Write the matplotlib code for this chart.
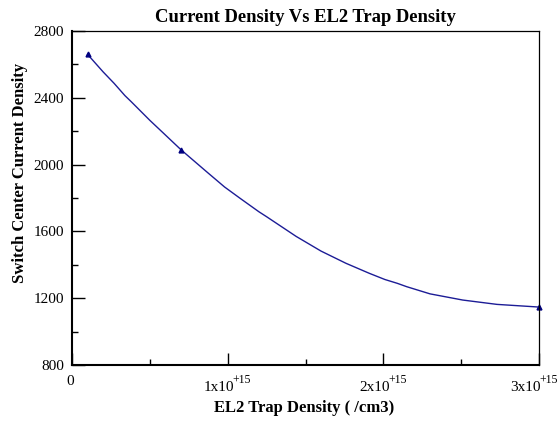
import numpy as np
import matplotlib
matplotlib.use("Agg")
import matplotlib.pyplot as plt
from matplotlib.ticker import MultipleLocator, FixedLocator

plt.rcParams["font.family"] = ["Liberation Serif", "DejaVu Serif"]

# measured points (EL2 trap density, /cm3)
trap_density = [0.1e15, 0.7e15, 3.0e15]
current_density = [2660, 2089, 1147]

# smooth fit curve
curve_x = [0.10e15, 0.20e15, 0.27e15, 0.34e15, 0.38e15, 0.50e15, 0.59e15,
           0.70e15, 0.87e15, 0.98e15, 1.08e15, 1.20e15, 1.25e15, 1.44e15,
           1.60e15, 1.76e15, 1.91e15, 2.01e15, 2.09e15, 2.15e15, 2.30e15,
           2.51e15, 2.73e15, 3.00e15]
curve_y = [2660, 2555, 2487, 2413, 2377, 2265, 2186,
           2089, 1953, 1866, 1798, 1718, 1688, 1570,
           1482, 1409, 1349, 1312, 1289, 1269, 1226,
           1189, 1163, 1147]

x_ticks = [0, 1e15, 2e15, 3e15]
x_tick_text = ["0", "1x10", "2x10", "3x10"]
x_tick_exp = ["", "+15", "+15", "+15"]
y_ticks = [800, 1200, 1600, 2000, 2400, 2800]

LINE_C = "#1c1c96"
MARK_C = "#000080"

fig = plt.figure(figsize=(5.6, 4.23), dpi=100)
ax = fig.add_axes([0.1286, 0.1371, 0.8339, 0.7896])

ax.plot(curve_x, curve_y, "-", color=LINE_C, lw=1.0, clip_on=False)
ax.plot(trap_density, current_density, "^", color=MARK_C, ms=3.5, clip_on=False)

ax.set_xlim(0, 3e15)
ax.set_ylim(800, 2800)
ax.xaxis.set_major_locator(FixedLocator(x_ticks))
ax.xaxis.set_minor_locator(MultipleLocator(0.5e15))
ax.yaxis.set_major_locator(FixedLocator(y_ticks))
ax.yaxis.set_minor_locator(MultipleLocator(200))

ax.tick_params(which="both", direction="in", top=False, right=False,
               labelsize=11, color="black")
ax.tick_params(which="major", length=9, width=1.0)
ax.tick_params(which="minor", length=4.5, width=1.0)
ax.tick_params(axis="x", labelbottom=False)
ax.tick_params(axis="y", pad=5.8)

# x tick labels written as "1x10" with a raised "+15"
for i, (v, txt, ex) in enumerate(zip(x_ticks, x_tick_text, x_tick_exp)):
    if ex == "":
        ax.annotate(txt, xy=(v, 0), xycoords=("data", "axes fraction"),
                    xytext=(-2, -20), textcoords="offset pixels",
                    ha="center", va="baseline", fontsize=11)
        continue
    shift = -5 if i == len(x_ticks) - 1 else 0
    ax.annotate(txt, xy=(v, 0), xycoords=("data", "axes fraction"),
                xytext=(-9 + shift, -26), textcoords="offset pixels",
                ha="center", va="baseline", fontsize=11,
                annotation_clip=False)
    ax.annotate(ex, xy=(v, 0), xycoords=("data", "axes fraction"),
                xytext=(5 + shift, -18), textcoords="offset pixels",
                ha="left", va="baseline", fontsize=8.5,
                annotation_clip=False)

for s in ["left", "bottom"]:
    ax.spines[s].set_linewidth(1.5)
for s in ["top", "right"]:
    ax.spines[s].set_linewidth(0.9)

ax.set_title("Current Density Vs EL2 Trap Density", fontsize=13.4,
             fontweight="bold", pad=6.5)
ax.set_xlabel("EL2 Trap Density ( /cm3)", fontsize=12, fontweight="bold")
ax.xaxis.set_label_coords(0.497, -0.104)
ax.set_ylabel("Switch Center Current Density", fontsize=12, fontweight="bold")
ax.yaxis.set_label_coords(-0.094, 0.575)

fig.savefig("out.png", dpi=100)
